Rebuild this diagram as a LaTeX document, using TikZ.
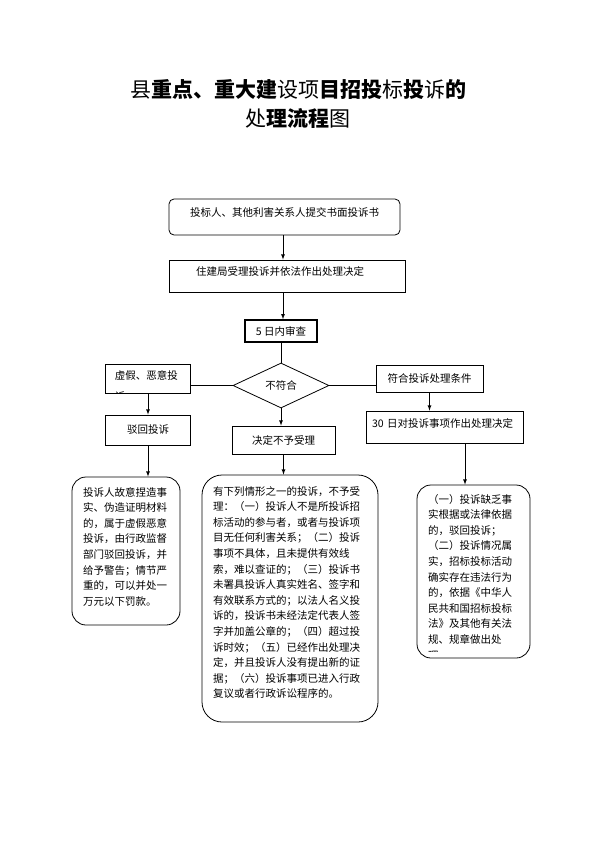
\documentclass[tikz,border=0pt]{standalone}
\usepackage{fontspec}
\newfontfamily\cjk{Noto Sans CJK SC}
\usetikzlibrary{arrows, calc, positioning, shapes.geometric}

\begin{document}
\begin{tikzpicture}[x=1pt, y=-1pt, >=latex,
                box/.style={draw, line width=0.8pt, inner sep=0pt},
                rbox/.style={box, rounded corners=5pt},
                note/.style={box, rounded corners=14pt},
                notetext/.style={anchor=north west, inner sep=0pt, align=left},
                flow/.style={->, line width=0.8pt},
                link/.style={line width=0.8pt}]
            \tikzstyle{every node}=[font=\cjk\fontsize{10.5pt}{15.6pt}\selectfont]
            \useasboundingbox (0,0) rectangle (595,841);
            % title
            \node[font=\cjk\fontsize{21pt}{28pt}\selectfont] (title1) at (298,90)
                {县{\bfseries 重点、重大建}设项{\bfseries 目招投}标{\bfseries 投}诉{\bfseries 的}};
            \node[font=\cjk\fontsize{21pt}{28pt}\selectfont] (title2) at (298,118)
                {处{\bfseries 理流程}图};
            % main line
            \coordinate (spine) at (283,0);
            \coordinate (drop) at (465,0);
            \node[rbox, minimum width=231pt, minimum height=36pt, text depth=9pt] (submit) at (284.5,217)
                {投标人、其他利害关系人提交书面投诉书};
            \node[box, minimum height=32pt, text width=182pt, inner xsep=27pt, align=left, text depth=9pt] (accept) at (287,276)
                {住建局受理投诉并依法作出处理决定};
            \node[box, line width=1.5pt, minimum width=72pt, minimum height=22pt] (review) at (281,331) {5 日内审查};
            \node[box, diamond, aspect=2.1, minimum width=96pt, minimum height=45pt] (check) at (281,385.5) {不符合};
            % branches
            \node[box, minimum width=85pt, minimum height=29pt,
                  path picture={\node[notetext, font=\cjk\fontsize{10.5pt}{21pt}\selectfont] (fakeTxt)
                      at ([xshift=-2pt, yshift=-6pt]path picture bounding box.north west) {虚假、恶意投\\诉};}] (fake) at (148,378.5) {};
            \node[box, minimum width=107pt, minimum height=27pt] (meets) at (429.5,378.5) {符合投诉处理条件};
            \node[box, minimum width=85pt, minimum height=30pt] (reject) at (148,430) {驳回投诉};
            \node[box, minimum width=103pt, minimum height=28pt] (refuse) at (283.5,440) {决定不予受理};
            \node[box, minimum height=32pt, text width=145pt, inner xsep=6pt, align=left, text depth=8pt] (decide) at (444.5,427)
                {30 日对投诉事项作出处理决定};
            % notes
            \node[note, minimum width=108pt, minimum height=148pt] (fakeNote) at (126,551) {};
            \node[notetext] (fakeNoteTxt) at (83,487) {投诉人故意捏造事\\实、伪造证明材料\\的，属于虚假恶意\\投诉，由行政监督\\部门驳回投诉，并\\给予警告；情节严\\重的，可以并处一\\万元以下罚款。};
            \node[note, rounded corners=20pt, minimum width=176pt, minimum height=247pt] (refuseNote) at (290,598.5) {};
            \node[notetext] (refuseNoteTxt) at (213,486) {有下列情形之一的投诉，不予受\\理：（一）投诉人不是所投诉招\\标活动的参与者，或者与投诉项\\目无任何利害关系；（二）投诉\\事项不具体，且未提供有效线\\索，难以查证的；（三）投诉书\\未署具投诉人真实姓名、签字和\\有效联系方式的；以法人名义投\\诉的，投诉书未经法定代表人签\\字并加盖公章的；（四）超过投\\诉时效；（五）已经作出处理决\\定，并且投诉人没有提出新的证\\据；（六）投诉事项已进入行政\\复议或者行政诉讼程序的。};
            \node[note, minimum width=113pt, minimum height=173pt] (decideNote) at (473.5,571.5) {};
            \begin{scope}
                \clip (417,485) rectangle (530,651.5);
                \node[notetext] (decideNoteTxt) at (428,494) {（一）投诉缺乏事\\实根据或法律依据\\的，驳回投诉；\\（二）投诉情况属\\实，招标投标活动\\确实存在违法行为\\的，依据《中华人\\民共和国招标投标\\法》及其他有关法\\规、规章做出处\\理。};
            \end{scope}
            % connectors
            \draw[flow] (submit.south -| spine) -- (accept.north -| spine);
            \draw[flow] (accept.south -| spine) -- (review.north -| spine);
            \draw[link] (review.south -| check.north) -- (check.north);
            \draw[link] (check.west) -- (check.west -| fake.east);
            \draw[link] (check.east) -- (check.east -| meets.west);
            \draw[flow] (fake.south) -- (reject.north);
            \draw[flow] (check.south) -- (check.south |- refuse.north);
            \draw[flow] (meets.south) -- (meets.south |- decide.north);
            \draw[flow] (reject.south) -- (reject.south |- fakeNote.north);
            \draw[flow] (refuse.south) -- (refuse.south |- refuseNote.north);
            \draw[flow] (decide.south -| drop) -- (decideNote.north -| drop);
        \end{tikzpicture}
\end{document}
